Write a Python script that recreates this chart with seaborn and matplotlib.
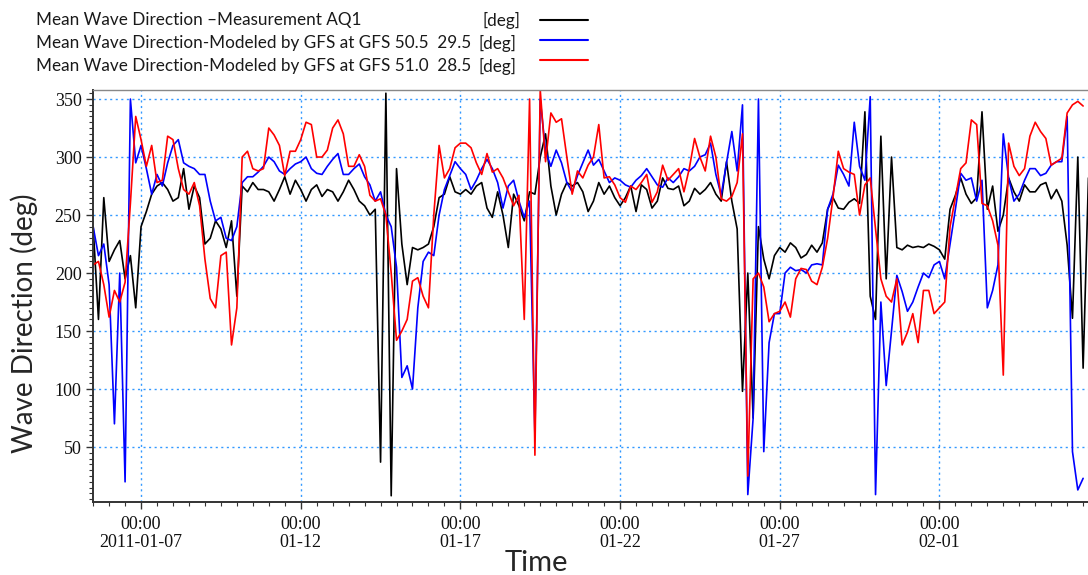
import numpy as np
import pandas as pd
import matplotlib
matplotlib.use("Agg")
import matplotlib.pyplot as plt
import matplotlib.dates as mdates
from matplotlib.lines import Line2D
from matplotlib.ticker import MultipleLocator, FixedLocator, FixedFormatter
import seaborn as sns

# ---- data: mean wave direction [deg], 4-hourly from 2011-01-05 12:00 ----
start_time = "2011-01-05 12:00"
step = "4h"

measured_aq1 = [
    240, 160, 265, 210, 220, 228,
    195, 215, 170, 240, 253, 268,
    275, 278, 272, 262, 265, 290,
    255, 275, 265, 225, 230, 245,
    238, 222, 245, 180, 275, 270,
    278, 272, 272, 270, 262, 272,
    283, 268, 280, 272, 262, 272,
    276, 266, 272, 270, 262, 270,
    280, 272, 262, 258, 250, 255,
    37, 355, 8, 290, 225, 190,
    222, 220, 222, 225, 240, 265,
    268, 283, 270, 268, 272, 268,
    275, 278, 256, 248, 270, 250,
    222, 268, 258, 245, 270, 268,
    300, 320, 275, 250, 268, 278,
    275, 278, 270, 253, 262, 278,
    268, 275, 265, 258, 265, 275,
    253, 276, 272, 256, 262, 282,
    273, 272, 275, 258, 262, 273,
    268, 272, 278, 268, 262, 296,
    262, 238, 98, 200, 75, 240,
    212, 195, 215, 222, 218, 226,
    222, 213, 216, 224, 218, 226,
    255, 265, 256, 255, 261, 264,
    260, 339, 180, 160, 318, 195,
    300, 222, 220, 224, 222, 223,
    222, 225, 223, 220, 212, 255,
    267, 282, 268, 260, 265, 339,
    255, 275, 236, 250, 282, 270,
    262, 276, 270, 270, 276, 278,
    264, 272, 262, 224, 161, 300,
    118, 282,
]

gfs_505_295 = [
    240, 215, 225, 190, 70, 200,
    20, 350, 295, 310, 290, 268,
    285, 275, 295, 310, 315, 295,
    292, 290, 285, 285, 262, 245,
    248, 230, 228, 240, 278, 283,
    283, 287, 292, 300, 296, 288,
    285, 290, 294, 296, 300, 290,
    286, 285, 292, 298, 303, 285,
    285, 290, 294, 283, 276, 262,
    270, 250, 240, 205, 110, 120,
    100, 170, 210, 218, 215, 250,
    272, 284, 296, 290, 285, 272,
    280, 290, 298, 290, 278, 256,
    275, 280, 262, 248, 262, 60,
    350, 305, 292, 306, 295, 278,
    270, 284, 295, 306, 293, 298,
    288, 278, 282, 280, 276, 274,
    280, 284, 290, 283, 276, 274,
    282, 278, 283, 290, 288, 292,
    300, 302, 312, 285, 267, 295,
    322, 288, 345, 9, 75, 350,
    46, 140, 165, 165, 200, 205,
    202, 203, 200, 207, 208, 207,
    255, 268, 293, 285, 275, 330,
    292, 280, 352, 9, 175, 103,
    150, 198, 184, 167, 175, 188,
    200, 196, 207, 210, 195, 225,
    255, 286, 280, 282, 262, 280,
    170, 185, 207, 320, 282, 262,
    268, 280, 290, 290, 284, 286,
    293, 296, 296, 335, 46, 13,
    23, np.nan,
]

gfs_510_285 = [
    207, 210, 190, 162, 185, 175,
    192, 260, 335, 315, 292, 310,
    278, 280, 318, 315, 290, 272,
    268, 278, 258, 212, 178, 170,
    215, 218, 138, 170, 300, 305,
    290, 288, 290, 325, 319, 310,
    284, 305, 305, 315, 330, 328,
    300, 300, 306, 325, 332, 320,
    292, 292, 302, 292, 267, 262,
    264, 250, 200, 142, 150, 160,
    193, 196, 180, 170, 250, 310,
    282, 290, 308, 312, 312, 308,
    295, 285, 303, 287, 290, 282,
    270, 258, 267, 160, 350, 43,
    358, 296, 338, 330, 333, 300,
    268, 288, 282, 293, 300, 328,
    282, 283, 276, 265, 261, 275,
    272, 278, 285, 261, 270, 293,
    280, 285, 290, 270, 290, 316,
    300, 288, 318, 300, 264, 262,
    266, 278, 320, 25, 195, 200,
    188, 158, 165, 167, 175, 162,
    195, 204, 203, 193, 190, 205,
    230, 265, 305, 290, 287, 285,
    250, 276, 282, 238, 195, 180,
    175, 195, 138, 149, 165, 140,
    185, 185, 165, 170, 175, 240,
    265, 290, 295, 332, 328, 260,
    258, 245, 224, 112, 312, 292,
    284, 290, 318, 330, 322, 316,
    293, 296, 299, 338, 345, 348,
    344, np.nan,
]

series_names = ["Measurement AQ1", "GFS 50.5 29.5", "GFS 51.0 28.5"]
legend_texts = [
    "Mean Wave Direction \u2013Measurement AQ1",
    "Mean Wave Direction-Modeled by GFS at GFS 50.5  29.5",
    "Mean Wave Direction-Modeled by GFS at GFS 51.0  28.5",
]
unit_text = "[deg]"
line_colors = ["#000000", "#0000ff", "#ff0000"]

major_tick_days = ["2011-01-07", "2011-01-12", "2011-01-17",
                   "2011-01-22", "2011-01-27", "2011-02-01"]
major_tick_labels = ["00:00\n2011-01-07", "00:00\n01-12", "00:00\n01-17",
                     "00:00\n01-22", "00:00\n01-27", "00:00\n02-01"]
y_ticks = [50, 100, 150, 200, 250, 300, 350]

# ---- long-form table for seaborn ----
times = pd.date_range(start_time, periods=len(measured_aq1), freq=step)
frames = []
for name, vals in zip(series_names, [measured_aq1, gfs_505_295, gfs_510_285]):
    frames.append(pd.DataFrame({"time": times, "deg": vals, "series": name}))
df = pd.concat(frames, ignore_index=True).dropna()

sns.set_style("ticks")
plt.rcParams["font.family"] = ["Liberation Serif", "DejaVu Serif"]

W, H = 1088, 575
ax_left, ax_bottom, ax_w, ax_h = 92.7, 73.0, W - 92.7, 412.0   # pixels
fig = plt.figure(figsize=(W / 100, H / 100), dpi=100)
ax = fig.add_axes([ax_left / W, ax_bottom / H, ax_w / W, ax_h / H])

sns.lineplot(data=df, x="time", y="deg", hue="series", hue_order=series_names,
             palette=line_colors, linewidth=1.2, estimator=None, sort=False,
             legend=False, ax=ax)

# ---- axes limits, ticks, grid ----
ax.set_xlim(pd.Timestamp("2011-01-05 11:40"), pd.Timestamp("2011-02-05 15:40"))
ax.set_ylim(2.6, 357.8)

tick_pos = mdates.date2num(pd.to_datetime(major_tick_days))
ax.xaxis.set_major_locator(FixedLocator(tick_pos))
ax.xaxis.set_major_formatter(FixedFormatter(major_tick_labels))
ax.xaxis.set_minor_locator(mdates.HourLocator(byhour=[0, 12]))
ax.yaxis.set_major_locator(FixedLocator(y_ticks))
ax.yaxis.set_minor_locator(MultipleLocator(5))

ax.tick_params(axis="both", which="major", direction="out", length=5,
               width=1, color="#333333", labelsize=13, labelcolor="#111111")
ax.tick_params(axis="both", which="minor", direction="out", length=3,
               width=0.8, color="#333333")
ax.tick_params(axis="x", which="major", pad=5)
ax.tick_params(axis="y", which="major", pad=3)
for lab in ax.get_xticklabels():
    lab.set_linespacing(1.05)

ax.grid(True, which="major", color="#3399ff", linestyle=(0, (1.5, 2.5)),
        linewidth=1.0)

for side in ["left", "bottom"]:
    ax.spines[side].set_color("#333333")
    ax.spines[side].set_linewidth(1.4)
ax.spines["top"].set_color("#888888")
ax.spines["top"].set_linewidth(1.0)
ax.spines["right"].set_visible(False)

# ---- axis titles ----
label_font = ["Lato", "DejaVu Sans"]
ax.set_xlabel("Time", fontsize=21, family=label_font)
ax.xaxis.label.set_va("baseline")
ax.xaxis.set_label_coords((536 - ax_left) / ax_w, (H - 571 - ax_bottom) / ax_h)
ax.set_ylabel("Wave Direction (deg)", fontsize=20, family=label_font)
ax.yaxis.label.set_va("center")
ax.yaxis.set_label_coords((24 - ax_left) / ax_w, (H - 323 - ax_bottom) / ax_h)

# ---- legend block above the axes: text, unit column, line sample ----
text_y = [20, 43, 66]
sample_y = [20, 40, 60]
unit_x = [482, 478, 478]
for txt, ty, sy, ux, col in zip(legend_texts, text_y, sample_y, unit_x, line_colors):
    fig.text(36 / W, 1 - ty / H, txt, ha="left", va="center",
             fontsize=12.3, family=label_font, color="#1a1a1a")
    fig.text(ux / W, 1 - ty / H, unit_text, ha="left", va="center",
             fontsize=12.3, family=label_font, color="#1a1a1a")
    fig.add_artist(Line2D([540 / W, 588 / W], [1 - sy / H, 1 - sy / H],
                          transform=fig.transFigure, color=col, linewidth=1.5))

fig.savefig("out.png", dpi=100)
